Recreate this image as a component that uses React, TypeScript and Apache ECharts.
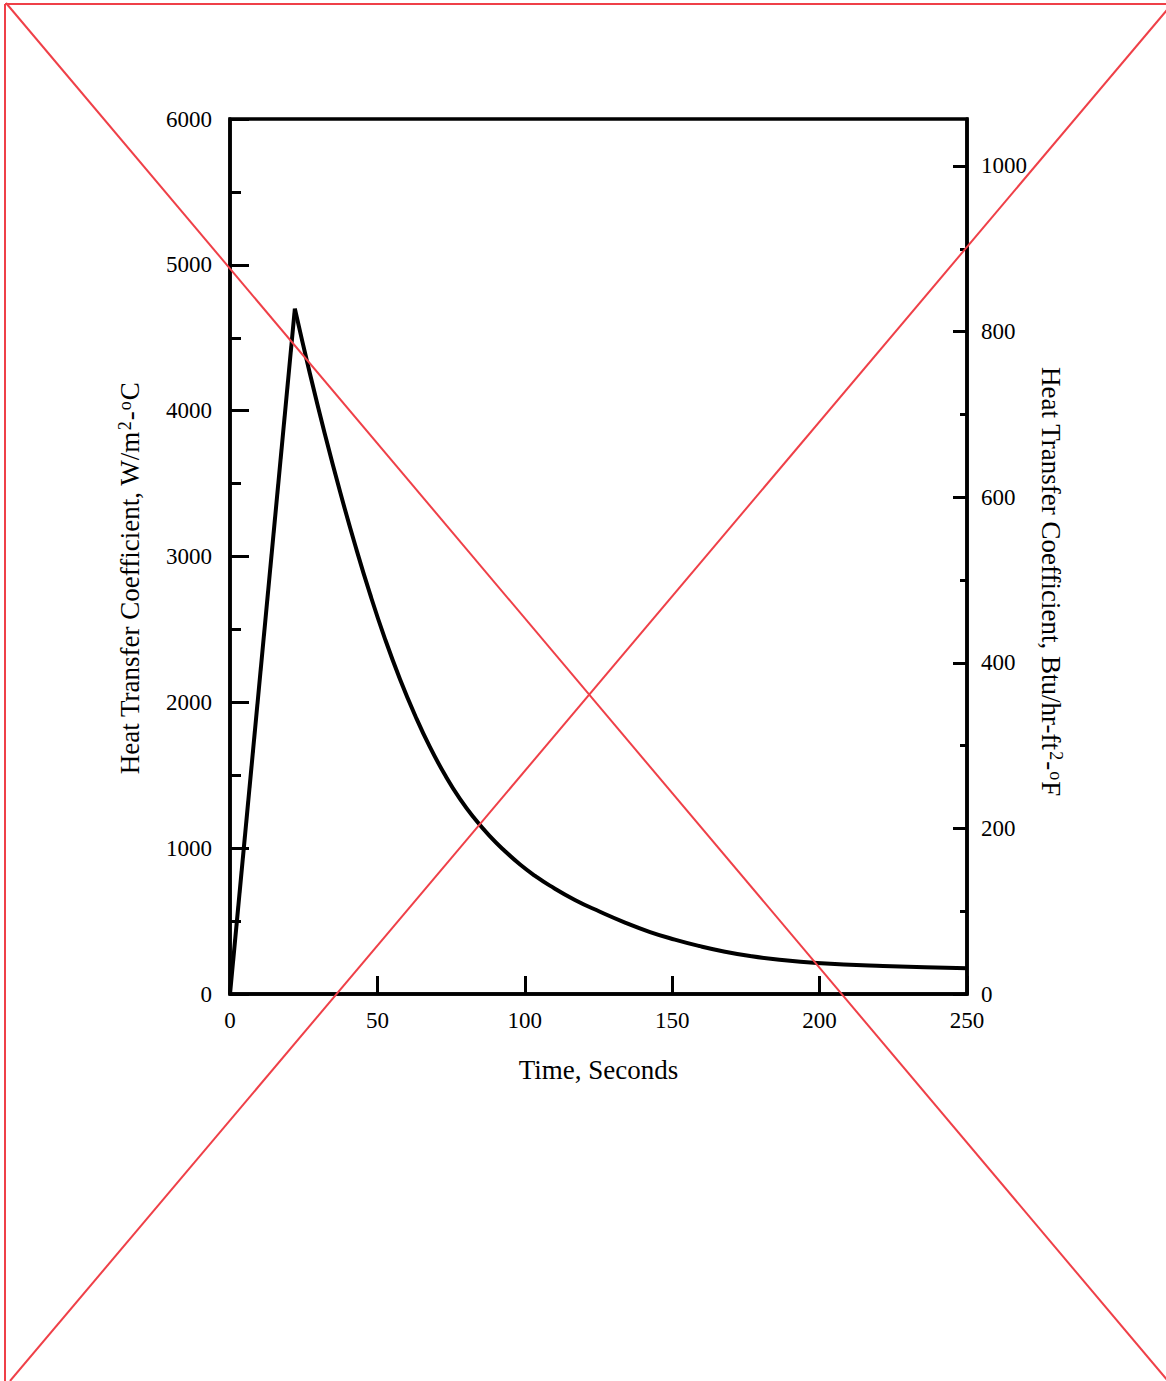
import React, { useEffect, useRef } from "react";
import * as echarts from "echarts";

// Time (s) and heat transfer coefficient (W/m^2-C)
const riseTime = [0, 22];
const riseH = [0, 4700];
const decayTime = [22, 27.1, 32.2, 37.3, 42.4, 47.5, 52.6, 57.7, 62.8, 67.8, 72.9, 78.0, 83.1, 88.2, 93.3, 98.4, 103.5, 108.5, 117.0, 125.5, 134.0, 142.5, 150.9, 159.4, 167.9, 176.4, 184.9, 199.1, 221.5, 250];
const decayH = [4700, 4255, 3838, 3447, 3082, 2743, 2434, 2157, 1910, 1694, 1503, 1338, 1200, 1081, 979, 888, 810, 743, 645, 564, 490, 425, 373, 328, 290, 260, 238, 213, 192, 176];

const xTicks = [0, 50, 100, 150, 200, 250];
const leftMax = 6000;
const rightMax = 6000 / 5.678; // Btu/hr-ft2-F equivalent of 6000 W/m2-C
const rightMajor = [0, 200, 400, 600, 800, 1000];
const rightMinor = [100, 300, 500, 700, 900];

const FONT = "Liberation Serif";
const RED = "#ef4048";

export default function App() {
  const ref = useRef<HTMLDivElement>(null);
  useEffect(() => {
    if (!ref.current) return;
    const chart = echarts.init(ref.current, undefined, { renderer: "svg" });
    const axisLine = { show: true, lineStyle: { color: "#000", width: 3.5 } };
    const plain = (v: number) => String(Math.round(v));
    const labelStyle = { color: "#000", fontSize: 23, fontFamily: FONT, formatter: plain };
    const nameStyle = {
      color: "#000",
      fontSize: 27,
      fontFamily: FONT,
      rich: {
        sup: { fontSize: 18, fontFamily: FONT, color: "#000", verticalAlign: "top", padding: [0, 1, 10, 1] },
      },
    };
    chart.setOption({
      animation: false,
      backgroundColor: "#fff",
      grid: {
        left: 230,
        right: 1166 - 967,
        top: 119,
        bottom: 1381 - 994,
        show: true,
        borderColor: "#000",
        borderWidth: 3.5,
        backgroundColor: "transparent",
      },
      xAxis: {
        type: "value",
        min: 0,
        max: 250,
        interval: 50,
        axisLine,
        axisTick: { show: true, inside: true, length: 18, lineStyle: { color: "#000", width: 3 } },
        axisLabel: { ...labelStyle, margin: 15, customValues: xTicks },
        splitLine: { show: false },
        name: "Time, Seconds",
        nameLocation: "middle",
        nameGap: 62,
        nameTextStyle: { color: "#000", fontSize: 27, fontFamily: FONT },
      },
      yAxis: [
        {
          type: "value",
          position: "left",
          min: 0,
          max: leftMax,
          interval: 1000,
          axisLine,
          axisTick: { show: true, inside: true, length: 19, lineStyle: { color: "#000", width: 3 } },
          minorTick: { show: true, splitNumber: 2, length: 11, lineStyle: { color: "#000", width: 3 } },
          axisLabel: { ...labelStyle, margin: 18 },
          splitLine: { show: false },
          minorSplitLine: { show: false },
          name: "Heat Transfer Coefficient, W/m{sup|2}-{sup|o}C",
          nameLocation: "middle",
          nameRotate: 90,
          nameGap: 86,
          nameTextStyle: { ...nameStyle, padding: [0, 44, 0, 0] },
        },
        {
          type: "value",
          position: "right",
          min: 0,
          max: rightMax,
          axisLine,
          axisTick: {
            show: true,
            inside: true,
            length: 14,
            customValues: rightMajor,
            lineStyle: { color: "#000", width: 3 },
          },
          axisLabel: { ...labelStyle, margin: 14, customValues: rightMajor },
          splitLine: { show: false },
          name: "Heat Transfer Coefficient, Btu/hr-ft{sup|2}-{sup|o}F",
          nameLocation: "middle",
          nameRotate: -90,
          nameGap: 62,
          nameTextStyle: { ...nameStyle, padding: [0, 0, 0, 50] },
        },
        {
          type: "value",
          position: "right",
          min: 0,
          max: rightMax,
          axisLine: { show: false },
          axisTick: {
            show: true,
            inside: true,
            length: 7,
            customValues: rightMinor,
            lineStyle: { color: "#000", width: 3 },
          },
          axisLabel: { show: false },
          splitLine: { show: false },
        },
      ],
      series: [
        {
          type: "line",
          yAxisIndex: 0,
          data: riseTime.map((t, i) => [t, riseH[i]]),
          showSymbol: false,
          lineStyle: { color: "#000", width: 4, join: "miter" },
        },
        {
          type: "line",
          yAxisIndex: 0,
          data: decayTime.map((t, i) => [t, decayH[i]]),
          showSymbol: false,
          smooth: 0.5,
          lineStyle: { color: "#000", width: 4, join: "miter" },
        },
      ],
      graphic: [
        { type: "line", z: 100, shape: { x1: 5, y1: 4, x2: 1166, y2: 4 }, style: { stroke: RED, lineWidth: 2 } },
        { type: "line", z: 100, shape: { x1: 5, y1: 4, x2: 5, y2: 1381 }, style: { stroke: RED, lineWidth: 2 } },
        { type: "line", z: 100, shape: { x1: 6, y1: 3, x2: 1168, y2: 1381 }, style: { stroke: RED, lineWidth: 2 } },
        { type: "line", z: 100, shape: { x1: 10, y1: 1381, x2: 1172, y2: 4 }, style: { stroke: RED, lineWidth: 2 } },
      ],
    });
    return () => chart.dispose();
  }, []);
  return (
    <div
      ref={ref}
      style={{ position: "absolute", left: 0, top: 0, width: 1166, height: 1381 }}
    />
  );
}
